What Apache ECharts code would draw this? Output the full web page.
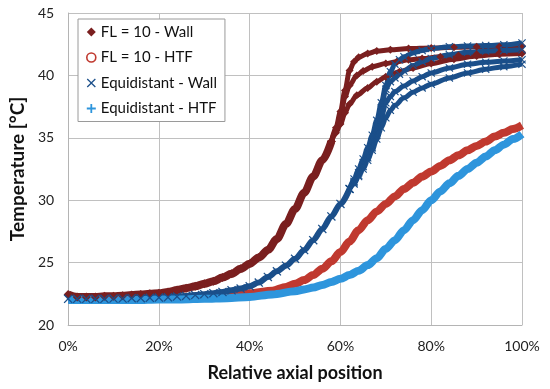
<!DOCTYPE html>
<html><head><meta charset="utf-8">
<script src="https://cdn.jsdelivr.net/npm/echarts@6/dist/echarts.min.js"></script>
<style>html,body{margin:0;padding:0;background:#fff}#c{width:550px;height:389px}</style>
</head><body><div id="c"></div>
<script>
// ---- data: [relative axial position %, temperature °C] ----
const seriesNames = ['FL = 10 - Wall', 'FL = 10 - HTF', 'Equidistant - Wall', 'Equidistant - HTF'];
const xTicks = [0, 20, 40, 60, 80, 100];
const yTicks = [20, 25, 30, 35, 40, 45];

const flWallBase = [[0,22.45],[2,22.25],[4,22.25],[6,22.25],[8,22.3],[10,22.3],[12,22.35],[14,22.4],[16,22.45],[18,22.5],[20,22.55],[22,22.65],[24,22.8],[26,22.95],[28,23.1],[30,23.3],[32,23.5],[34,23.8],[36,24.1],[38,24.5],[40,24.9],[42,25.4],[44,26.0],[46,26.9],[48,28.1],[50,29.3],[52,30.6],[54,31.9],[56,33.2],[58,34.7]];
const flWallA = [[58,34.7],[59,35.8],[60,37.1],[61,38.8],[62,40.4],[63,41.1],[64,41.45],[66,41.75],[68,41.95],[71,42.05],[75,42.15],[80,42.2],[85,42.25],[90,42.3],[95,42.3],[100,42.35]];
const flWallB = [[58,34.7],[59,35.6],[60,36.6],[61,38.3],[62,39.2],[63.6,40.0],[65,40.35],[67,40.7],[70,40.95],[72.4,41.1],[75,41.25],[78,41.35],[82,41.5],[86,41.6],[90,41.7],[95,41.8],[100,41.85]];
const flWallC = [[58,34.7],[59,35.4],[60,36.1],[61,37.0],[62,37.7],[63.6,38.4],[66,39.0],[68,39.5],[70,39.9],[73,40.3],[76,40.6],[80,40.95],[85,41.3],[90,41.55],[95,41.7],[100,41.75]];

const flHtf = [[0,22.05],[5,22.05],[10,22.05],[15,22.1],[20,22.1],[25,22.15],[30,22.25],[35,22.35],[40,22.55],[45,22.75],[48,23.05],[50,23.3],[52,23.6],[54,24.0],[56,24.5],[58,25.1],[60,25.85],[62,26.7],[64,27.6],[66,28.4],[68,29.1],[70,29.7],[72,30.3],[74,30.9],[76,31.4],[78,31.9],[80,32.3],[82,32.75],[84,33.2],[86,33.6],[88,34.0],[90,34.35],[92,34.7],[94,35.1],[96,35.4],[98,35.7],[100,36.0]];

const eqWallBase = [[0,22.1],[2,22.1],[4,22.1],[6,22.1],[8,22.1],[10,22.12],[12,22.12],[14,22.15],[16,22.15],[18,22.18],[20,22.2],[22,22.22],[24,22.28],[26,22.33],[28,22.4],[30,22.47],[32,22.55],[34,22.65],[36,22.78],[38,22.92],[40,23.1],[42,23.4],[44,23.85],[46,24.3],[48,24.75],[50,25.3],[52,26.0],[54,26.8],[56,27.7],[58,28.7],[60,29.7],[62,30.9]];
const eqWallA = [[62,30.9],[63,31.7],[64,32.5],[65,33.3],[66,34.2],[67,35.2],[68,36.4],[69,37.8],[70,39.2],[71,40.3],[72,40.9],[73,41.25],[74,41.5],[76,41.8],[78,42.0],[80,42.15],[84,42.3],[88,42.35],[92,42.4],[96,42.45],[100,42.6]];
const eqWallB = [[62,30.9],[63,31.5],[64,32.2],[65,33.0],[66,33.8],[67,34.7],[68,35.9],[69,37.4],[70,38.9],[71,39.5],[72,39.8],[73,40.1],[74,40.35],[76,40.8],[78,41.1],[80,41.35],[84,41.65],[88,41.85],[92,41.95],[96,42.0],[100,42.05]];
const eqWallC = [[62,30.9],[63,31.4],[64,32.0],[65,32.7],[66,33.4],[67,34.2],[68,35.2],[69,36.6],[70,37.8],[71,38.3],[72,38.7],[74,39.15],[76,39.55],[78,39.9],[80,40.2],[84,40.6],[88,40.9],[92,41.05],[96,41.15],[100,41.25]];
const eqWallD = [[62,30.9],[63,31.3],[64,31.9],[65,32.5],[66,33.2],[67,34.0],[68,34.9],[69,35.8],[70,36.6],[71,37.2],[72,37.6],[74,38.2],[76,38.65],[78,39.0],[80,39.3],[84,39.8],[88,40.2],[92,40.5],[96,40.7],[100,40.9]];

const eqHtf = [[0,22.0],[5,22.0],[10,22.0],[15,22.0],[20,22.05],[25,22.05],[30,22.1],[35,22.15],[40,22.25],[45,22.45],[50,22.7],[52,22.85],[54,23.0],[56,23.2],[58,23.45],[60,23.7],[62,24.0],[64,24.35],[66,24.8],[68,25.35],[70,26.1],[72,26.8],[74,27.6],[76,28.4],[78,29.2],[80,30.0],[82,30.7],[84,31.35],[86,31.95],[88,32.5],[90,33.0],[92,33.5],[94,34.0],[96,34.45],[98,34.9],[100,35.3]];

// ---- styles ----
const C_FLW = '#7a1f1f', C_FLH = '#c0392f', C_EQW = '#1b4f8a', C_EQH = '#2e95dc';
const X_SYM = 'path://M1,0 L5,4 L9,0 L10,1 L6,5 L10,9 L9,10 L5,6 L1,10 L0,9 L4,5 L0,1 Z';
const P_SYM = 'path://M4,0 L6,0 L6,4 L10,4 L10,6 L6,6 L6,10 L4,10 L4,6 L0,6 L0,4 L4,4 Z';
const FONT = 'Lato';

function wall(name, data, color, symbol, size, width) {
  return { name, type: 'line', data, smooth: 0.3, smoothMonotone: 'x',
    symbol, symbolSize: size, showSymbol: true, showAllSymbol: true,
    itemStyle: { color }, lineStyle: { color, width }, z: 2, animation: false };
}
function htf(name, data, color, width) {
  return { name, type: 'line', data, smooth: 0.3, smoothMonotone: 'x',
    showSymbol: false, symbol: 'none',
    itemStyle: { color }, lineStyle: { color, width }, z: 2, animation: false };
}

const series = [
  wall(seriesNames[0], flWallBase, C_FLW, 'diamond', 9, 8),
  wall(seriesNames[0], flWallA, C_FLW, 'diamond', 8, 5),
  wall(seriesNames[0], flWallB, C_FLW, 'diamond', 8, 5),
  wall(seriesNames[0], flWallC, C_FLW, 'diamond', 8, 5),
  htf(seriesNames[1], flHtf, C_FLH, 8),
  wall(seriesNames[2], eqWallBase, C_EQW, X_SYM, 9, 6),
  wall(seriesNames[2], eqWallA, C_EQW, X_SYM, 8, 5),
  wall(seriesNames[2], eqWallB, C_EQW, X_SYM, 8, 5),
  wall(seriesNames[2], eqWallC, C_EQW, X_SYM, 8, 5),
  wall(seriesNames[2], eqWallD, C_EQW, X_SYM, 8, 5),
  htf(seriesNames[3], eqHtf, C_EQH, 8)
];

const chart = echarts.init(document.getElementById('c'), null, { renderer: 'canvas' });
chart.setOption({
  backgroundColor: '#fff',
  animation: false,
  grid: { left: 68, right: 28, top: 13, bottom: 64, containLabel: false },
  legend: {
    orient: 'vertical', left: 78, top: 19,
    padding: [4, 8, 4, 8], itemGap: 7.5, itemWidth: 9, itemHeight: 9,
    backgroundColor: '#fff', borderColor: '#9a9a9a', borderWidth: 1,
    textStyle: { fontFamily: FONT, fontSize: 15, color: '#111', lineHeight: 18 },
    data: [
      { name: seriesNames[0], icon: 'diamond', itemStyle: { color: C_FLW } },
      { name: seriesNames[1], icon: 'circle', itemStyle: { color: '#fff', borderColor: C_FLH, borderWidth: 1.6 } },
      { name: seriesNames[2], icon: X_SYM, itemStyle: { color: C_EQW } },
      { name: seriesNames[3], icon: P_SYM, itemStyle: { color: C_EQH } }
    ]
  },
  xAxis: {
    type: 'value', min: xTicks[0], max: xTicks[xTicks.length - 1], interval: 20,
    name: 'Relative axial position', nameLocation: 'middle', nameGap: 39,
    nameTextStyle: { fontFamily: FONT, fontSize: 18, fontWeight: 'bold', color: '#111' },
    axisLine: { show: true, lineStyle: { color: '#b4b4b4', width: 1 } },
    axisTick: { show: false },
    axisLabel: { formatter: '{value}%', fontFamily: FONT, fontSize: 14, color: '#222', margin: 14 },
    splitLine: { show: true, lineStyle: { color: '#c0c0c0', width: 1 } }
  },
  yAxis: {
    type: 'value', min: yTicks[0], max: yTicks[yTicks.length - 1], interval: 5,
    name: 'Temperature [°C]', nameLocation: 'middle', nameGap: 38,
    nameTextStyle: { fontFamily: FONT, fontSize: 19, fontWeight: 'bold', color: '#111' },
    axisLine: { show: true, lineStyle: { color: '#b4b4b4', width: 1 } },
    axisTick: { show: false },
    axisLabel: { fontFamily: FONT, fontSize: 14, color: '#222', margin: 14 },
    splitLine: { show: true, lineStyle: { color: '#c0c0c0', width: 1 } }
  },
  series
});
</script></body></html>
